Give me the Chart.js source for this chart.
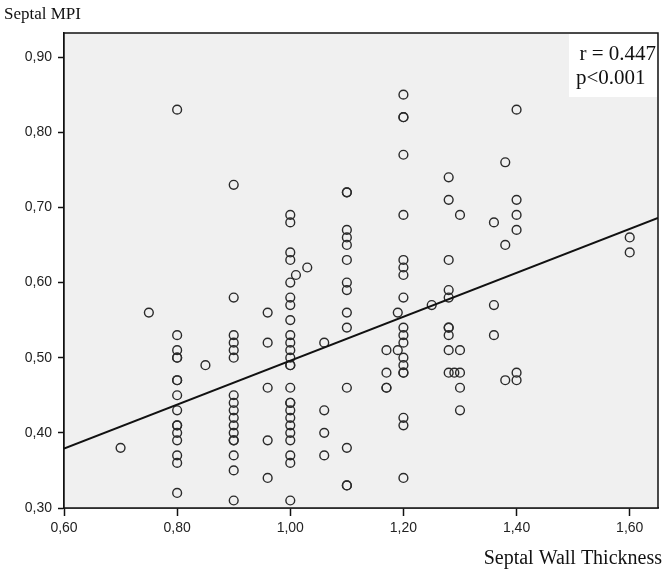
<!DOCTYPE html>
<html>
<head>
<meta charset="utf-8">
<script src="https://cdn.jsdelivr.net/npm/chart.js@4/dist/chart.umd.min.js"></script>
<style>
  html, body { margin: 0; padding: 0; background: #ffffff; }
  #wrap { width: 666px; height: 573px; }
</style>
</head>
<body>
<div id="wrap"><canvas id="c" width="666" height="573"></canvas></div>
<script>
// ---- Data ----
const wallThickness = [
  0.70,
  0.75,
  0.80,0.80,0.80,0.80,0.80,0.80,0.80,0.80,0.80,0.80,0.80,0.80,0.80,0.80,0.80,0.80,
  0.85,
  0.90,0.90,0.90,0.90,0.90,0.90,0.90,0.90,0.90,0.90,0.90,0.90,0.90,0.90,0.90,0.90,0.90,
  0.96,0.96,0.96,0.96,0.96,
  1.00,1.00,1.00,1.00,1.00,1.00,1.00,1.00,1.00,1.00,1.00,1.00,1.00,1.00,1.00,1.00,1.00,1.00,1.00,1.00,1.00,1.00,1.00,1.00,1.00,
  1.01,
  1.03,
  1.06,1.06,1.06,1.06,
  1.10,1.10,1.10,1.10,1.10,1.10,1.10,1.10,1.10,1.10,1.10,1.10,1.10,1.10,
  1.17,1.17,1.17,1.17,
  1.19,1.19,
  1.20,1.20,1.20,1.20,1.20,1.20,1.20,1.20,1.20,1.20,1.20,1.20,1.20,1.20,1.20,1.20,1.20,1.20,1.20,
  1.25,
  1.28,1.28,1.28,1.28,1.28,1.28,1.28,1.28,1.28,1.28,
  1.29,
  1.30,1.30,1.30,1.30,1.30,
  1.36,1.36,1.36,
  1.38,1.38,1.38,
  1.40,1.40,1.40,1.40,1.40,1.40,
  1.60,1.60
];
const septalMPI = [
  0.38,
  0.56,
  0.83,0.53,0.51,0.50,0.50,0.47,0.47,0.45,0.43,0.41,0.41,0.40,0.39,0.37,0.36,0.32,
  0.49,
  0.73,0.58,0.53,0.52,0.51,0.50,0.45,0.44,0.43,0.42,0.41,0.40,0.39,0.39,0.37,0.35,0.31,
  0.56,0.52,0.46,0.39,0.34,
  0.69,0.68,0.64,0.63,0.60,0.58,0.57,0.55,0.53,0.52,0.51,0.50,0.49,0.49,0.46,0.44,0.44,0.43,0.42,0.41,0.40,0.39,0.37,0.36,0.31,
  0.61,
  0.62,
  0.52,0.43,0.40,0.37,
  0.72,0.72,0.67,0.66,0.65,0.63,0.60,0.59,0.56,0.54,0.46,0.38,0.33,0.33,
  0.51,0.48,0.46,0.46,
  0.56,0.51,
  0.85,0.82,0.82,0.77,0.69,0.63,0.62,0.61,0.58,0.54,0.53,0.52,0.50,0.49,0.48,0.48,0.42,0.41,0.34,
  0.57,
  0.74,0.71,0.63,0.59,0.58,0.54,0.54,0.53,0.51,0.48,
  0.48,
  0.69,0.51,0.48,0.46,0.43,
  0.68,0.57,0.53,
  0.76,0.65,0.47,
  0.83,0.71,0.69,0.67,0.48,0.47,
  0.66,0.64
];
// Fit line end points (x, y)
const fitX = [0.60, 1.65];
const fitY = [0.379, 0.686];

const xTicks = [0.60, 0.80, 1.00, 1.20, 1.40, 1.60];
const yTicks = [0.30, 0.40, 0.50, 0.60, 0.70, 0.80, 0.90];
const statLines = ["r = 0.447", "p<0.001"];
const yTitle = "Septal MPI";
const xTitle = "Septal Wall Thickness";

const fmt = v => v.toFixed(2).replace('.', ',');

const scatterData = wallThickness.map((x, i) => ({ x: x, y: septalMPI[i] }));
const fitData = fitX.map((x, i) => ({ x: x, y: fitY[i] }));

const SERIF = '"Liberation Serif", "Times New Roman", serif';
const SANS = '"Liberation Sans", Arial, sans-serif';

const decor = {
  id: 'decor',
  beforeDatasetsDraw(chart) {
    const { ctx, chartArea: a } = chart;
    ctx.save();
    ctx.fillStyle = '#f0f0f0';
    ctx.fillRect(a.left, a.top, a.right - a.left, a.bottom - a.top);
    ctx.restore();
  },
  afterDraw(chart) {
    const { ctx, chartArea: a } = chart;
    ctx.save();
    // frame
    ctx.strokeStyle = '#111';
    ctx.lineWidth = 1.5;
    ctx.strokeRect(a.left, a.top, a.right - a.left, a.bottom - a.top);
    // stats box
    const bx = 569, by = a.top + 1, bw = a.right - 1 - 569, bh = 96 - a.top;
    ctx.fillStyle = '#ffffff';
    ctx.fillRect(bx, by, bw, bh);
    ctx.fillStyle = '#111';
    ctx.font = '21px ' + SERIF;
    ctx.textBaseline = 'alphabetic';
    ctx.textAlign = 'right';
    ctx.fillText(statLines[0], a.right - 2, 60);
    ctx.textAlign = 'left';
    ctx.fillText(statLines[1], 576, 84);
    // axis titles
    ctx.font = '17px ' + SERIF;
    ctx.textAlign = 'left';
    ctx.fillText(yTitle, 4, 19);
    ctx.font = '20px ' + SERIF;
    ctx.textAlign = 'right';
    ctx.fillText(xTitle, 662, 564);
    ctx.restore();
  }
};

new Chart(document.getElementById('c'), {
  type: 'scatter',
  data: {
    datasets: [
      {
        type: 'line',
        data: fitData,
        borderColor: '#111',
        borderWidth: 2,
        pointRadius: 0,
        fill: false,
        order: 0
      },
      {
        type: 'scatter',
        data: scatterData,
        pointStyle: 'circle',
        pointRadius: 4.4,
        borderWidth: 1.4,
        borderColor: '#2a2a2a',
        backgroundColor: 'rgba(0,0,0,0)',
        order: 1
      }
    ]
  },
  options: {
    responsive: false,
    animation: false,
    devicePixelRatio: 1,
    layout: { padding: { left: 0, top: 33, right: 8, bottom: 0 } },
    plugins: { legend: { display: false }, tooltip: { enabled: false } },
    scales: {
      x: {
        type: 'linear',
        min: 0.6,
        max: 1.65,
        afterBuildTicks: s => { s.ticks = xTicks.map(v => ({ value: v })); },
        afterFit: s => { s.height = 65; },
        grid: { drawOnChartArea: false, drawTicks: true, tickLength: 8, tickColor: '#111', tickWidth: 1.5 },
        border: { display: true, color: '#111', width: 1.5 },
        ticks: {
          callback: v => fmt(v),
          font: { family: SANS, size: 14 },
          color: '#222',
          padding: 4,
          maxRotation: 0
        }
      },
      y: {
        type: 'linear',
        min: 0.30,
        max: 0.932,
        afterBuildTicks: s => { s.ticks = yTicks.map(v => ({ value: v })); },
        afterFit: s => { s.width = 64; },
        grid: { drawOnChartArea: false, drawTicks: true, tickLength: 6, tickColor: '#111', tickWidth: 1.5 },
        border: { display: true, color: '#111', width: 1.5 },
        ticks: {
          callback: v => fmt(v),
          font: { family: SANS, size: 14 },
          color: '#222',
          padding: 6
        }
      }
    }
  },
  plugins: [decor]
});
</script>
</body>
</html>
